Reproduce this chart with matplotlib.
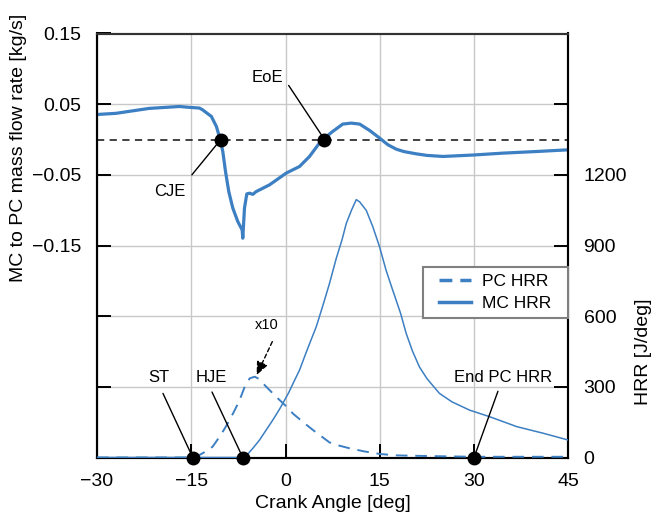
import matplotlib
matplotlib.use("Agg")
import matplotlib.pyplot as plt
from matplotlib.lines import Line2D
from matplotlib.legend_handler import HandlerLine2D
import numpy as np

plt.rcParams['font.family'] = ['Liberation Sans', 'DejaVu Sans']

BLUE = "#3c7fc2"

# Mass flow rate MC -> PC [kg/s] (left axis)
flow_angle = [-30.0, -27.0, -21.7, -16.9, -15.3, -13.7, -13.2, -11.8, -11.0, -10.4,
              -9.98, -9.55, -9.03, -8.39, -7.6, -6.9, -6.8, -6.53, -6.16, -5.73,
              -5.2, -4.67, -2.55, 0.1, 2.23, 3.82, 5.4, 6.2, 7.5, 9.1,
              10.46, 11.8, 13.4, 14.97, 16.3, 17.6, 18.8, 20.8, 22.5, 25.05, 29.8,
              34.6, 39.9, 45.0]
flow_rate = [0.0354, 0.037, 0.044, 0.0467, 0.0455, 0.0445, 0.042, 0.0326, 0.0184, 0.0,
             -0.017, -0.0453, -0.0737, -0.097, -0.116, -0.128, -0.1397, -0.097, -0.077, -0.076,
             -0.0776, -0.0737, -0.0642, -0.0476, -0.0382, -0.024, -0.005, 0.002, 0.0113, 0.0218,
             0.0232, 0.0218, 0.0127, 0.002, -0.0075, -0.0136, -0.017, -0.0203, -0.0225, -0.024, -0.022,
             -0.0193, -0.017, -0.0146]

# MC heat release rate [J/deg] (right axis)
mc_angle = [-30.0, -6.8, -6.0, -5.2, -4.14, -3.07, -2.0, -1.0, -0.43, 0.5,
            1.3, 2.23, 3.2, 4.0, 4.89, 6.0, 7.0, 8.07, 9.0, 9.66,
            10.5, 11.26, 11.8, 12.85, 13.9, 14.97, 16.0, 17.0, 17.6, 18.3,
            19.2, 20.2, 21.3, 22.5, 24.5, 26.5, 29.3, 32.5, 36.8, 41.0, 45.0]
mc_hrr = [0, 0, 15, 39, 74, 117, 160, 203, 230, 275,
          320, 371, 440, 495, 555, 650, 739, 845, 925, 993,
          1050, 1095, 1085, 1049, 979, 894, 795, 715, 668, 613,
          527, 452, 385, 335, 272, 236, 201, 173, 131, 103, 74]

# PC heat release rate x10 [J/deg] (right axis)
pc_angle = [-30.0, -14.76, -14.0, -13.2, -12.4, -11.6, -10.5, -9.7, -8.9, -8.1,
            -7.3, -6.5, -5.7, -4.9, -4.4, -3.6, -2.5, -1.5, 0.0, 1.16,
            2.8, 4.35, 5.7, 7.0, 8.6, 10.2, 12.5, 15.0, 17.6, 22.9, 30.0, 45.0]
pc_hrr = [0, 0, 6, 18, 30, 46, 88, 122, 159, 200,
          244, 300, 336, 343, 336, 315, 285, 258, 220, 187,
          150, 117, 90, 64, 50, 39, 26, 15, 9, 6, 3, 3]

# Events
flow_events = ["CJE", "EoE"]
flow_event_angle = [-10.3, 6.2]
hrr_events = ["ST", "HJE", "End PC HRR"]
hrr_event_angle = [-14.76, -6.8, 30.0]

x_ticks = [-30, -15, 0, 15, 30, 45]
left_ticks = [-0.45, -0.35, -0.25, -0.15, -0.05, 0.05, 0.15]
left_labels = ["", "", "", "\u22120.15", "\u22120.05", "0.05", "0.15"]
right_ticks = [0, 300, 600, 900, 1200, 1500, 1800]
right_labels = ["0", "300", "600", "900", "1200", "", ""]

fig = plt.figure(figsize=(6.54, 5.2), dpi=100)
ax = fig.add_axes([97/654, 1-457.5/520, (568.3-97)/654, (457.5-33.5)/520])
ax2 = ax.twinx()

ax.set_xlim(-30, 45)
ax.set_ylim(-0.45, 0.15)
ax2.set_ylim(0, 1800)

# grid
ax.set_axisbelow(True)
ax.grid(True, color="#c8c8c8", lw=1.0)

ax.set_xticks(x_ticks)
ax.set_xticklabels([("\u2212%d" % -t) if t < 0 else str(t) for t in x_ticks])
ax.set_yticks(left_ticks)
ax.set_yticklabels(left_labels)
ax2.set_yticks(right_ticks)
ax2.set_yticklabels(right_labels)

for a in (ax, ax2):
    a.tick_params(direction="in", length=10, width=1.4, labelsize=14, pad=11)
    for s in a.spines.values():
        s.set_linewidth(1.5)
        s.set_color("black")
    a.spines["top"].set_color("#333333")

# zero line
ax.axhline(0, color="#333333", lw=1.3, ls=(0, (4, 3)), zorder=2)

# curves
ax.plot(flow_angle, flow_rate, color=BLUE, lw=2.3, zorder=3)
ax2.plot(mc_angle, mc_hrr, color=BLUE, lw=1.1, zorder=3)
ax2.plot(pc_angle, pc_hrr, color=BLUE, lw=1.4, dashes=(6, 4), zorder=3)

# event dots
ax.plot(flow_event_angle, [0] * len(flow_event_angle), "o", color="black", ms=9, zorder=5)
ax2.plot(hrr_event_angle, [0] * len(hrr_event_angle), "o", color="black", ms=9,
         zorder=5, clip_on=False)

# annotations
txtkw = dict(fontsize=12, ha="center", va="center")
lkw = dict(arrowstyle="-", lw=1.0, color="black", shrinkA=0, shrinkB=0)
ax.text(-2.9, 0.0875, "EoE", **txtkw)
ax.annotate("", xy=(flow_event_angle[1], 0), xytext=(0.5, 0.0765), arrowprops=lkw)
ax.text(-18.4, -0.074, "CJE", **txtkw)
ax.annotate("", xy=(flow_event_angle[0], 0), xytext=(-14.9, -0.050), arrowprops=lkw)

ax2.text(-20.1, 340, "ST", **txtkw)
ax2.annotate("", xy=(hrr_event_angle[0], 0), xytext=(-19.5, 272), arrowprops=lkw)
ax2.text(-11.85, 340, "HJE", **txtkw)
ax2.annotate("", xy=(hrr_event_angle[1], 0), xytext=(-11.7, 278), arrowprops=lkw)
ax2.text(34.6, 340, "End PC HRR", **txtkw)
ax2.annotate("", xy=(hrr_event_angle[2], 0), xytext=(33.8, 281), arrowprops=lkw)

ax2.text(-3.0, 562, "x10", fontsize=10.5, ha="center", va="center")
ax2.annotate("", xy=(-4.6, 350), xytext=(-2.1, 492),
             arrowprops=dict(arrowstyle="-|>,head_length=0.8,head_width=0.35", lw=1.0,
                             color="black", ls=(0, (3, 2)), shrinkA=0, shrinkB=0))

# labels
ax.set_xlabel("Crank Angle [deg]", fontsize=14, labelpad=4)
ax.set_ylabel("MC to PC mass flow rate [kg/s]", fontsize=14)
ax.yaxis.set_label_coords(-0.149, 0.73)
ax2.set_ylabel("HRR [J/deg]", fontsize=14)
ax2.yaxis.set_label_coords(1.142, 0.25)

# legend
handles = [Line2D([], [], color=BLUE, lw=2.5, dashes=(3.7, 2.3)),
           Line2D([], [], color=BLUE, lw=2.5)]
hmap = {h: HandlerLine2D(xpad=0.55) for h in handles}
leg = ax2.legend(handles, ["PC HRR  ", "MC HRR  "], loc="upper right",
                 bbox_to_anchor=(1.0, 0.449), fontsize=12.5, frameon=True,
                 fancybox=False, edgecolor="#808080", framealpha=1,
                 handlelength=2.4, borderpad=0.4, labelspacing=0.4,
                 borderaxespad=0, handletextpad=0.63, handler_map=hmap)
leg.get_frame().set_linewidth(1.5)

fig.savefig("out.png", dpi=100)
